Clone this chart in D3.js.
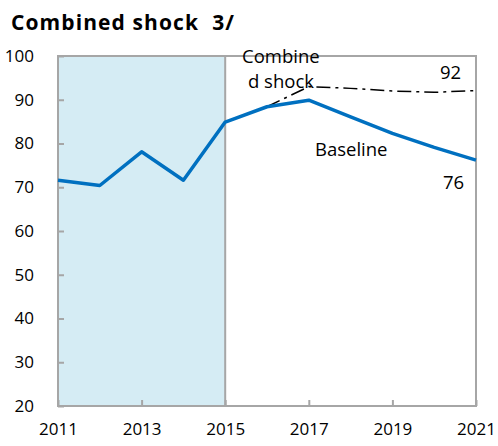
<!DOCTYPE html>
<html><head><meta charset="utf-8">
<script src="https://cdn.jsdelivr.net/npm/d3@7"></script>
<style>body{margin:0;background:#fff;}svg{display:block;font-family:"Open Sans",sans-serif;}</style>
</head><body>
<script>
const years = [2011,2012,2013,2014,2015,2016,2017,2018,2019,2020,2021];
const baseline = [71.6,70.4,78.1,71.6,84.9,88.4,89.9,86.1,82.3,79.1,76.2];
const shockYears = [2016,2017,2018,2019,2020,2021];
const shock = [88.4,93.0,92.6,92.0,91.7,92.1];
const yTicks = [20,30,40,50,60,70,80,90,100];
const xTicks = [2011,2013,2015,2017,2019,2021];
const shadeRange = [2011,2015];

const W=498,H=446;
const svg=d3.select("body").append("svg").attr("width",W).attr("height",H);
const x=d3.scaleLinear().domain([2011,2021]).range([58,476]);
const y=d3.scaleLinear().domain([20,100]).range([406,56]);
const grey="#a6a6a6";

svg.append("text").attr("x",11).attr("y",30).attr("font-size",21).attr("font-weight","bold").attr("letter-spacing",1.1).text("Combined shock  3/").attr("fill","#000").style("white-space","pre");

svg.append("rect").attr("x",x(shadeRange[0])).attr("y",y(100)).attr("width",x(shadeRange[1])-x(shadeRange[0])).attr("height",y(20)-y(100)).attr("fill","#d5ecf4");

// frame
svg.append("rect").attr("x",x(2011)).attr("y",y(100)).attr("width",x(2021)-x(2011)).attr("height",y(20)-y(100)).attr("fill","none").attr("stroke",grey).attr("stroke-width",2);
svg.append("line").attr("x1",x(2015)).attr("x2",x(2015)).attr("y1",y(100)).attr("y2",y(20)).attr("stroke",grey).attr("stroke-width",2);

const yAxis=d3.axisLeft(y).tickValues(yTicks).tickSize(-6).tickPadding(24).tickFormat(d3.format("d"));
const ga=svg.append("g").attr("transform",`translate(${x(2011)},0)`).call(yAxis);
ga.select(".domain").remove();
ga.selectAll("line").attr("stroke",grey).attr("stroke-width",2);
ga.selectAll("text").attr("font-size",17).attr("fill","#000").attr("font-family","Open Sans");

const xAxis=d3.axisBottom(x).tickValues(xTicks).tickSize(-6).tickPadding(17).tickFormat(d3.format("d"));
const gx=svg.append("g").attr("transform",`translate(0,${y(20)})`).call(xAxis);
gx.select(".domain").remove();
gx.selectAll("line").attr("stroke",grey).attr("stroke-width",2);
gx.selectAll("text").attr("font-size",17).attr("fill","#000").attr("font-family","Open Sans");

const line=d3.line().x(d=>x(d[0])).y(d=>y(d[1]));
svg.append("path").datum(shockYears.map((d,i)=>[d,shock[i]])).attr("d",line).attr("fill","none").attr("stroke","#000").attr("stroke-width",1.5).attr("stroke-dasharray","14,5,3,5");
svg.append("path").datum(years.map((d,i)=>[d,baseline[i]])).attr("d",line).attr("fill","none").attr("stroke","#0070c0").attr("stroke-width",3.5).attr("stroke-linejoin","round");

const lab=(t,xx,yy,anchor)=>svg.append("text").attr("x",xx).attr("y",yy).attr("font-size",18.5).attr("text-anchor",anchor||"start").attr("fill","#000").text(t);
lab("Combine",242,63);
lab("d shock",248,88);
lab("92",440,79);
lab("Baseline",315,156);
lab("76",443,189);
</script>
</body></html>
